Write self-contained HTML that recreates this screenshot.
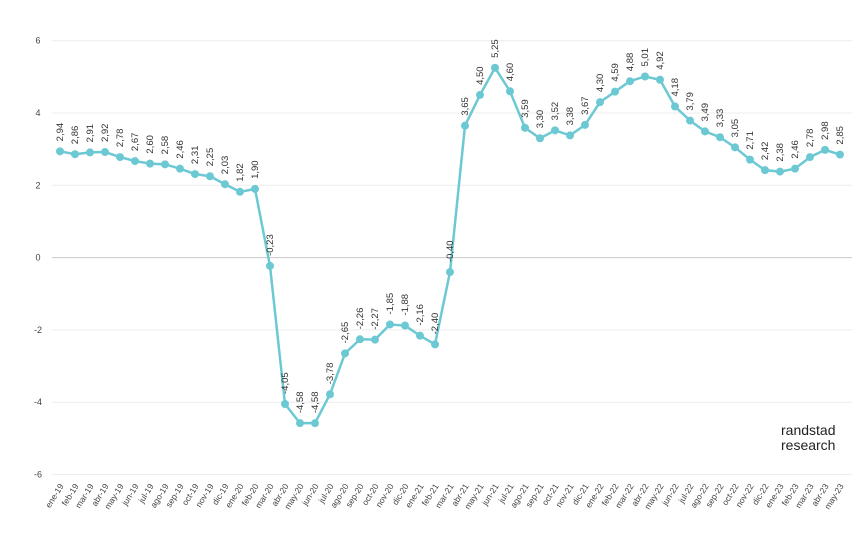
<!DOCTYPE html>
<html><head><meta charset="utf-8"><style>
html,body{margin:0;padding:0;background:#fff;}
svg{display:block;font-family:"Liberation Sans",sans-serif;}
</style></head><body>
<svg id="c" width="868" height="546" xmlns="http://www.w3.org/2000/svg"></svg>
<script>
const v=[2.94,2.86,2.91,2.92,2.78,2.67,2.60,2.58,2.46,2.31,2.25,2.03,1.82,1.90,-0.23,-4.05,-4.58,-4.58,-3.78,-2.65,-2.26,-2.27,-1.85,-1.88,-2.16,-2.40,-0.40,3.65,4.50,5.25,4.60,3.59,3.30,3.52,3.38,3.67,4.30,4.59,4.88,5.01,4.92,4.18,3.79,3.49,3.33,3.05,2.71,2.42,2.38,2.46,2.78,2.98,2.85];
const m=["ene","feb","mar","abr","may","jun","jul","ago","sep","oct","nov","dic"];
const Y=d=>257.6-d*36.15, X=i=>60+i*15.0;
let s="";
for(let g=-6;g<=6;g+=2){const y=Y(g);
 s+=`<line x1="52" x2="852" y1="${y}" y2="${y}" stroke="${g==0?'#c8c8c8':'#ececec'}" stroke-width="1"/>`;
 s+=`<text x="38" y="${y+3}" font-size="9" fill="#444" text-anchor="middle">${g}</text>`;}
let p=v.map((d,i)=>X(i)+","+Y(d)).join(" ");
s+=`<polyline points="${p}" fill="none" stroke="#6cc9d3" stroke-width="2.5"/>`;
v.forEach((d,i)=>{const x=X(i),y=Y(d);
 s+=`<circle cx="${x}" cy="${y}" r="4" fill="#6cc9d3"/>`;
 s+=`<text transform="translate(${x+3},${y-10}) rotate(-90)" font-size="9.5" fill="#333">${d.toFixed(2).replace('.',',')}</text>`;
 const lab=m[i%12]+"-"+(19+Math.floor(i/12));
 s+=`<text transform="translate(${x+4},${486}) rotate(-58)" font-size="8.5" fill="#444" text-anchor="end">${lab}</text>`;});
s+=`<text x="781" y="435" font-size="14" fill="#222">randstad</text><text x="781" y="450" font-size="14" fill="#222">research</text>`;
document.getElementById("c").innerHTML=s;
</script>
</body></html>
